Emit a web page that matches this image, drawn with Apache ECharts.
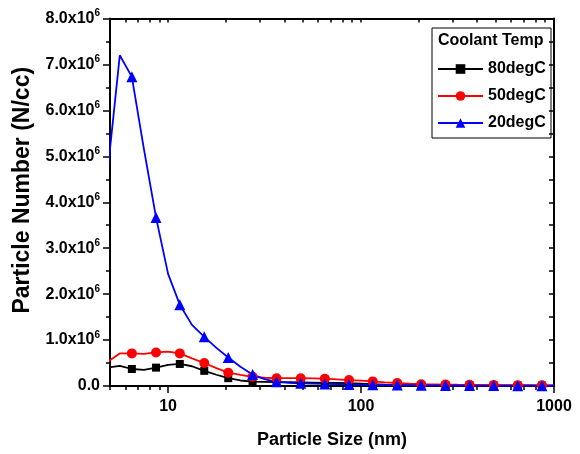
<!DOCTYPE html>
<html>
<head>
<meta charset="utf-8">
<script src="https://cdn.jsdelivr.net/npm/echarts@6/dist/echarts.min.js"></script>
<style>
html,body{margin:0;padding:0;background:#fff;}
#chart{width:580px;height:454px;}
</style>
</head>
<body>
<div id="chart"></div>
<script>
// Particle size channels (nm)
const sizes = [4.87, 5.62, 6.49, 7.50, 8.66, 10.0, 11.5, 13.3, 15.4, 17.8, 20.5, 23.7, 27.4, 31.6, 36.5, 42.2, 48.7, 56.2, 64.9, 75.0, 86.6, 100, 115, 133, 154, 178, 205, 237, 274, 316, 365, 422, 487, 562, 649, 750, 866, 1000];
// Particle number (N/cc)
const temp80 = [0.40e6, 0.44e6, 0.37e6, 0.35e6, 0.40e6, 0.46e6, 0.48e6, 0.43e6, 0.33e6, 0.245e6, 0.17e6, 0.12e6, 0.095e6, 0.09e6, 0.085e6, 0.085e6, 0.08e6, 0.075e6, 0.07e6, 0.065e6, 0.06e6, 0.05e6, 0.04e6, 0.032e6, 0.025e6, 0.02e6, 0.018e6, 0.016e6, 0.015e6, 0.014e6, 0.013e6, 0.012e6, 0.011e6, 0.010e6, 0.010e6, 0.009e6, 0.009e6, 0.008e6];
const temp50 = [0.53e6, 0.71e6, 0.71e6, 0.70e6, 0.73e6, 0.75e6, 0.71e6, 0.60e6, 0.50e6, 0.39e6, 0.29e6, 0.24e6, 0.20e6, 0.18e6, 0.17e6, 0.17e6, 0.17e6, 0.165e6, 0.16e6, 0.145e6, 0.13e6, 0.115e6, 0.10e6, 0.08e6, 0.065e6, 0.05e6, 0.04e6, 0.035e6, 0.03e6, 0.027e6, 0.025e6, 0.022e6, 0.02e6, 0.018e6, 0.017e6, 0.016e6, 0.015e6, 0.014e6];
const temp20 = [4.70e6, 7.20e6, 6.73e6, 5.15e6, 3.67e6, 2.44e6, 1.77e6, 1.33e6, 1.07e6, 0.83e6, 0.62e6, 0.42e6, 0.25e6, 0.15e6, 0.09e6, 0.07e6, 0.06e6, 0.05e6, 0.045e6, 0.04e6, 0.035e6, 0.03e6, 0.025e6, 0.02e6, 0.02e6, 0.015e6, 0.014e6, 0.013e6, 0.012e6, 0.011e6, 0.01e6, 0.01e6, 0.009e6, 0.009e6, 0.008e6, 0.008e6, 0.008e6, 0.007e6];
const seriesNames = ['80degC', '50degC', '20degC'];
const xMajorTicks = [10, 100, 1000];
const xMinorTicks = [5, 6, 7, 8, 9, 20, 30, 40, 50, 60, 70, 80, 90, 200, 300, 400, 500, 600, 700, 800, 900];
const xAllTicks = xMinorTicks.concat(xMajorTicks);

const FONT = 'Liberation Sans, Arial, sans-serif';
const chart = echarts.init(document.getElementById('chart'), null, {renderer: 'canvas'});

function pairs(ys) { return sizes.map((x, i) => [x, ys[i]]); }
function everyOther(size) { return function (val, params) { return params.dataIndex % 2 === 0 ? size : 0; }; }

const xBase = {type: 'log', logBase: 10, min: 5, max: 1000, gridIndex: 0};
const lineStyleAxis = {color: '#000', width: 2};

const option = {
  animation: false,
  backgroundColor: '#fff',
  grid: {left: 110, right: 26, top: 18.5, bottom: 65.5},
  xAxis: [
    Object.assign({}, xBase, {
      position: 'bottom',
      name: 'Particle Size (nm)', nameLocation: 'middle', nameGap: 45,
      nameTextStyle: {fontFamily: FONT, fontSize: 18, fontWeight: 'bold', color: '#000'},
      axisLine: {show: true, lineStyle: lineStyleAxis},
      axisTick: {show: true, inside: false, length: 7, lineStyle: {color: '#000', width: 1.5}, customValues: xMajorTicks},
      axisLabel: {show: true, margin: 13, fontFamily: FONT, fontSize: 16, fontWeight: 'bold', color: '#000', customValues: xMajorTicks,
        formatter: function (v) { return String(Math.round(v)); }},
      splitLine: {show: false}
    }),
    Object.assign({}, xBase, {
      position: 'bottom',
      axisLine: {show: false},
      axisTick: {show: true, inside: false, length: 4, lineStyle: {color: '#000', width: 1.5}, customValues: xMinorTicks},
      axisLabel: {show: false},
      splitLine: {show: false}
    }),
    Object.assign({}, xBase, {
      position: 'top',
      axisLine: {show: true, lineStyle: lineStyleAxis},
      axisTick: {show: true, inside: true, length: 4, lineStyle: {color: '#000', width: 1.5}, customValues: xAllTicks},
      axisLabel: {show: false},
      splitLine: {show: false}
    })
  ],
  yAxis: [
    {
      type: 'value', min: 0, max: 8e6, interval: 1e6, position: 'left',
      name: 'Particle Number (N/cc)', nameLocation: 'middle', nameGap: 76, nameRotate: 90,
      nameTextStyle: {fontFamily: FONT, fontSize: 23, fontWeight: 'bold', color: '#000', padding: [0, 0, 0, 24]},
      axisLine: {show: true, lineStyle: lineStyleAxis},
      axisTick: {show: true, inside: false, length: 7, lineStyle: {color: '#000', width: 1.5}},
      minorTick: {show: true, splitNumber: 2, length: 4, lineStyle: {color: '#000', width: 1.5}},
      axisLabel: {
        margin: 10, color: '#000',
        formatter: function (v) {
          if (v === 0) return '{b|0.0}';
          return '{b|' + (v / 1e6).toFixed(1) + 'x10}{s|6}';
        },
        rich: {
          b: {fontFamily: FONT, fontSize: 16, fontWeight: 'bold', color: '#000'},
          s: {fontFamily: FONT, fontSize: 10, fontWeight: 'bold', color: '#000', padding: [0, 0, 10, 0]}
        }
      },
      splitLine: {show: false}
    },
    {
      type: 'value', min: 0, max: 8e6, interval: 5e5, position: 'right',
      axisLine: {show: true, lineStyle: lineStyleAxis},
      axisTick: {show: true, inside: true, length: 5, lineStyle: {color: '#000', width: 1.5}},
      axisLabel: {show: false},
      splitLine: {show: false}
    }
  ],
  legend: {
    orient: 'vertical', left: 437, top: 61, padding: 0,
    itemWidth: 45, itemHeight: 12, itemGap: 11,
    textStyle: {fontFamily: FONT, fontSize: 16, fontWeight: 'bold', color: '#000'},
    data: seriesNames
  },
  graphic: [
    {type: 'rect', left: 429.5, top: 25.5, shape: {x: 0, y: 0, width: 119, height: 110},
      style: {fill: 'none', stroke: '#000', lineWidth: 1}, z: 100},
    {type: 'text', left: 438, top: 33, style: {text: 'Coolant Temp', font: 'bold 16px ' + FONT, fill: '#000'}, z: 100}
  ],
  series: [
    {name: seriesNames[0], type: 'line', xAxisIndex: 0, yAxisIndex: 0, data: pairs(temp80),
      symbol: 'rect', symbolSize: everyOther(8), showAllSymbol: true,
      itemStyle: {color: '#000'}, lineStyle: {color: '#000', width: 1.8}},
    {name: seriesNames[1], type: 'line', xAxisIndex: 0, yAxisIndex: 0, data: pairs(temp50),
      symbol: 'circle', symbolSize: everyOther(10), showAllSymbol: true,
      itemStyle: {color: '#ff0000'}, lineStyle: {color: '#ff0000', width: 1.8}},
    {name: seriesNames[2], type: 'line', xAxisIndex: 0, yAxisIndex: 0, data: pairs(temp20),
      symbol: 'triangle', symbolSize: everyOther(11), showAllSymbol: true,
      itemStyle: {color: '#0000ff'}, lineStyle: {color: '#0000ff', width: 1.8}}
  ]
};
chart.setOption(option);
</script>
</body>
</html>
